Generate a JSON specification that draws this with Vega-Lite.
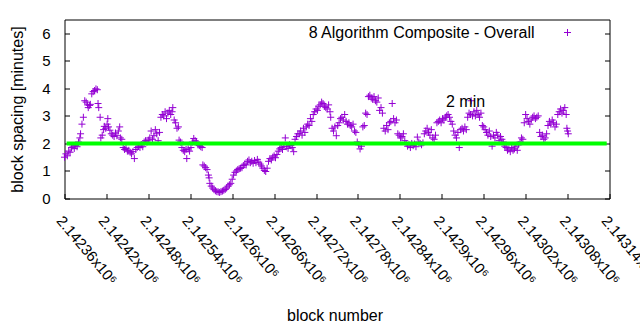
{
  "$schema": "https://vega.github.io/schema/vega-lite/v6.json",
  "width": 545,
  "height": 179,
  "autosize": "none",
  "padding": {"left": 64.5, "top": 19.5, "right": 30.5, "bottom": 131.5},
  "background": "white",
  "config": {
    "font": "Liberation Sans",
    "view": {"stroke": "black", "strokeWidth": 1},
    "axis": {"grid": false, "domain": false, "labelColor": "#000", "titleColor": "#000", "tickColor": "#000", "labelFontSize": 15, "titleFontSize": 16, "titleFontWeight": "normal", "tickSize": -5}
  },
  "resolve": {"axis": {"y": "independent"}},
  "layer": [
    {
      "data": {"values": [
        {"block":2142360,"spacing":1.50},{"block":2142362,"spacing":1.62},{"block":2142364,"spacing":1.55},{"block":2142366,"spacing":1.72},{"block":2142368,"spacing":1.68},{"block":2142370,"spacing":1.85},{"block":2142372,"spacing":1.90},{"block":2142374,"spacing":1.82},{"block":2142376,"spacing":1.92},{"block":2142378,"spacing":1.88},{"block":2142380,"spacing":2.05},{"block":2142382,"spacing":2.20},{"block":2142383,"spacing":2.35},{"block":2142385,"spacing":2.70},{"block":2142387,"spacing":2.95},{"block":2142389,"spacing":3.55},{"block":2142391,"spacing":3.50},{"block":2142393,"spacing":3.40},{"block":2142394,"spacing":3.30},{"block":2142396,"spacing":3.38},{"block":2142397,"spacing":3.42},{"block":2142399,"spacing":3.80},{"block":2142401,"spacing":3.88},{"block":2142403,"spacing":3.92},{"block":2142405,"spacing":3.98},{"block":2142407,"spacing":3.95},{"block":2142408,"spacing":3.45},{"block":2142409,"spacing":3.30},{"block":2142411,"spacing":2.95},{"block":2142412,"spacing":2.20},{"block":2142414,"spacing":2.30},{"block":2142416,"spacing":2.50},{"block":2142417,"spacing":2.62},{"block":2142419,"spacing":2.55},{"block":2142421,"spacing":2.70},{"block":2142422,"spacing":2.90},{"block":2142423,"spacing":2.60},{"block":2142425,"spacing":2.48},{"block":2142427,"spacing":2.35},{"block":2142429,"spacing":2.30},{"block":2142431,"spacing":2.25},{"block":2142433,"spacing":2.38},{"block":2142435,"spacing":2.28},{"block":2142437,"spacing":2.45},{"block":2142439,"spacing":2.60},{"block":2142440,"spacing":2.20},{"block":2142442,"spacing":2.15},{"block":2142444,"spacing":1.85},{"block":2142446,"spacing":1.78},{"block":2142448,"spacing":1.82},{"block":2142450,"spacing":1.72},{"block":2142452,"spacing":1.75},{"block":2142454,"spacing":1.68},{"block":2142456,"spacing":1.62},{"block":2142458,"spacing":1.70},{"block":2142460,"spacing":1.45},{"block":2142462,"spacing":1.78},{"block":2142464,"spacing":1.85},{"block":2142466,"spacing":1.90},{"block":2142468,"spacing":1.85},{"block":2142470,"spacing":1.95},{"block":2142472,"spacing":1.88},{"block":2142474,"spacing":2.05},{"block":2142476,"spacing":2.10},{"block":2142478,"spacing":2.05},{"block":2142480,"spacing":2.12},{"block":2142482,"spacing":2.20},{"block":2142484,"spacing":2.45},{"block":2142486,"spacing":2.15},{"block":2142488,"spacing":2.28},{"block":2142490,"spacing":2.50},{"block":2142492,"spacing":2.35},{"block":2142494,"spacing":2.10},{"block":2142496,"spacing":2.40},
        {"block":2142498,"spacing":2.95},{"block":2142500,"spacing":3.05},{"block":2142502,"spacing":3.00},{"block":2142504,"spacing":3.15},{"block":2142506,"spacing":2.90},{"block":2142508,"spacing":3.10},{"block":2142510,"spacing":3.20},{"block":2142512,"spacing":3.05},{"block":2142514,"spacing":3.15},{"block":2142515,"spacing":3.30},{"block":2142517,"spacing":2.85},{"block":2142519,"spacing":2.75},{"block":2142521,"spacing":2.55},{"block":2142523,"spacing":2.60},{"block":2142524,"spacing":2.12},{"block":2142526,"spacing":2.05},{"block":2142528,"spacing":1.85},{"block":2142530,"spacing":1.75},{"block":2142532,"spacing":1.70},{"block":2142534,"spacing":1.78},{"block":2142535,"spacing":1.45},{"block":2142537,"spacing":1.80},{"block":2142539,"spacing":1.72},{"block":2142541,"spacing":1.85},{"block":2142543,"spacing":2.05},{"block":2142545,"spacing":2.18},{"block":2142547,"spacing":2.10},{"block":2142549,"spacing":2.05},{"block":2142551,"spacing":1.95},{"block":2142553,"spacing":1.92},{"block":2142555,"spacing":1.88},{"block":2142557,"spacing":1.85},
        {"block":2142558,"spacing":1.22},{"block":2142560,"spacing":1.18},{"block":2142562,"spacing":1.12},{"block":2142564,"spacing":1.05},{"block":2142566,"spacing":0.85},{"block":2142567,"spacing":0.75},{"block":2142568,"spacing":0.55},{"block":2142570,"spacing":0.45},{"block":2142572,"spacing":0.38},{"block":2142574,"spacing":0.32},{"block":2142576,"spacing":0.28},{"block":2142578,"spacing":0.25},{"block":2142580,"spacing":0.24},{"block":2142582,"spacing":0.22},{"block":2142584,"spacing":0.25},{"block":2142586,"spacing":0.27},{"block":2142588,"spacing":0.30},{"block":2142590,"spacing":0.33},{"block":2142592,"spacing":0.38},{"block":2142594,"spacing":0.45},{"block":2142596,"spacing":0.50},{"block":2142598,"spacing":0.55},
        {"block":2142600,"spacing":0.70},{"block":2142602,"spacing":0.85},{"block":2142604,"spacing":0.95},{"block":2142606,"spacing":1.00},{"block":2142608,"spacing":1.05},{"block":2142610,"spacing":1.08},{"block":2142612,"spacing":1.10},{"block":2142614,"spacing":1.12},{"block":2142616,"spacing":1.20},{"block":2142618,"spacing":1.25},{"block":2142620,"spacing":1.22},{"block":2142622,"spacing":1.35},{"block":2142624,"spacing":1.40},{"block":2142626,"spacing":1.30},{"block":2142628,"spacing":1.35},{"block":2142630,"spacing":1.28},{"block":2142632,"spacing":1.38},{"block":2142634,"spacing":1.30},{"block":2142636,"spacing":1.42},{"block":2142638,"spacing":1.32},{"block":2142640,"spacing":1.25},{"block":2142642,"spacing":1.18},
        {"block":2142644,"spacing":1.10},{"block":2142646,"spacing":1.02},{"block":2142648,"spacing":0.98},{"block":2142650,"spacing":1.10},{"block":2142652,"spacing":1.35},{"block":2142654,"spacing":1.45},{"block":2142656,"spacing":1.40},{"block":2142658,"spacing":1.50},{"block":2142660,"spacing":1.55},{"block":2142662,"spacing":1.48},{"block":2142664,"spacing":1.60},{"block":2142666,"spacing":1.72},{"block":2142668,"spacing":1.80},{"block":2142670,"spacing":1.85},{"block":2142672,"spacing":1.78},{"block":2142674,"spacing":1.90},{"block":2142676,"spacing":2.20},{"block":2142678,"spacing":1.88},{"block":2142680,"spacing":1.82},{"block":2142682,"spacing":1.95},{"block":2142684,"spacing":1.92},{"block":2142686,"spacing":1.85},{"block":2142688,"spacing":1.70},{"block":2142690,"spacing":2.15},{"block":2142692,"spacing":2.25},{"block":2142694,"spacing":2.35},
        {"block":2142696,"spacing":2.35},{"block":2142698,"spacing":2.45},{"block":2142700,"spacing":2.30},{"block":2142702,"spacing":2.55},{"block":2142704,"spacing":2.40},{"block":2142706,"spacing":2.60},{"block":2142708,"spacing":2.70},{"block":2142710,"spacing":2.65},{"block":2142712,"spacing":2.90},{"block":2142714,"spacing":2.80},{"block":2142716,"spacing":3.05},{"block":2142718,"spacing":3.15},{"block":2142720,"spacing":3.25},{"block":2142722,"spacing":3.20},{"block":2142724,"spacing":3.35},{"block":2142726,"spacing":3.40},{"block":2142728,"spacing":3.50},{"block":2142730,"spacing":3.45},{"block":2142732,"spacing":3.35},{"block":2142734,"spacing":3.30},{"block":2142736,"spacing":3.25},{"block":2142738,"spacing":3.40},{"block":2142740,"spacing":3.15},{"block":2142741,"spacing":2.95},{"block":2142743,"spacing":2.55},{"block":2142745,"spacing":2.45},{"block":2142747,"spacing":2.60},{"block":2142749,"spacing":2.28},{"block":2142751,"spacing":2.65},{"block":2142753,"spacing":2.75},{"block":2142755,"spacing":2.90},{"block":2142757,"spacing":2.95},{"block":2142759,"spacing":2.85},{"block":2142761,"spacing":3.05},{"block":2142763,"spacing":2.80},{"block":2142765,"spacing":2.70},{"block":2142767,"spacing":2.75},{"block":2142769,"spacing":2.65},{"block":2142771,"spacing":2.60},{"block":2142773,"spacing":2.70},{"block":2142775,"spacing":2.45},{"block":2142777,"spacing":2.40},{"block":2142779,"spacing":2.05},{"block":2142781,"spacing":1.95},{"block":2142783,"spacing":1.80},{"block":2142785,"spacing":1.90},{"block":2142787,"spacing":2.60},{"block":2142789,"spacing":2.65},{"block":2142791,"spacing":3.10},{"block":2142793,"spacing":3.05},
        {"block":2142795,"spacing":3.70},{"block":2142797,"spacing":3.75},{"block":2142799,"spacing":3.65},{"block":2142801,"spacing":3.60},{"block":2142803,"spacing":3.70},{"block":2142805,"spacing":3.55},{"block":2142807,"spacing":3.50},{"block":2142809,"spacing":3.65},{"block":2142811,"spacing":3.20},{"block":2142813,"spacing":3.30},{"block":2142815,"spacing":3.10},{"block":2142817,"spacing":2.55},{"block":2142819,"spacing":2.45},{"block":2142821,"spacing":2.65},{"block":2142823,"spacing":2.50},{"block":2142825,"spacing":2.75},{"block":2142827,"spacing":2.80},{"block":2142829,"spacing":3.45},{"block":2142831,"spacing":2.90},{"block":2142833,"spacing":2.75},{"block":2142835,"spacing":2.85},{"block":2142837,"spacing":2.35},{"block":2142839,"spacing":2.30},{"block":2142841,"spacing":2.20},{"block":2142843,"spacing":2.25},{"block":2142845,"spacing":2.35},{"block":2142847,"spacing":2.10},{"block":2142849,"spacing":2.00},{"block":2142851,"spacing":1.90},{"block":2142853,"spacing":1.95},{"block":2142855,"spacing":1.85},{"block":2142857,"spacing":2.00},{"block":2142859,"spacing":1.92},{"block":2142861,"spacing":1.98},{"block":2142863,"spacing":1.88},{"block":2142865,"spacing":2.23},{"block":2142867,"spacing":2.05},{"block":2142869,"spacing":2.00},{"block":2142871,"spacing":1.95},{"block":2142873,"spacing":2.02},{"block":2142875,"spacing":2.35},{"block":2142877,"spacing":2.45},{"block":2142879,"spacing":2.55},{"block":2142881,"spacing":2.40},{"block":2142883,"spacing":2.30},{"block":2142885,"spacing":2.50},{"block":2142887,"spacing":2.20},{"block":2142889,"spacing":2.15},{"block":2142891,"spacing":2.30},{"block":2142893,"spacing":2.75},{"block":2142895,"spacing":2.80},{"block":2142897,"spacing":2.85},{"block":2142899,"spacing":2.75},{"block":2142901,"spacing":2.90},{"block":2142903,"spacing":2.85},{"block":2142905,"spacing":2.95},{"block":2142907,"spacing":3.00},{"block":2142909,"spacing":3.05},{"block":2142911,"spacing":2.95},{"block":2142913,"spacing":2.80},{"block":2142915,"spacing":2.70},{"block":2142917,"spacing":2.45},{"block":2142919,"spacing":2.30},{"block":2142921,"spacing":2.20},{"block":2142923,"spacing":2.40},{"block":2142925,"spacing":1.85},{"block":2142927,"spacing":2.50},{"block":2142929,"spacing":2.55},{"block":2142931,"spacing":2.45},{"block":2142933,"spacing":2.60},{"block":2142935,"spacing":2.50},{"block":2142937,"spacing":2.95},{"block":2142939,"spacing":3.10},{"block":2142941,"spacing":3.05},{"block":2142942,"spacing":3.55},{"block":2142944,"spacing":3.00},{"block":2142946,"spacing":3.15},{"block":2142948,"spacing":3.00},{"block":2142950,"spacing":3.20},{"block":2142952,"spacing":3.05},{"block":2142954,"spacing":2.95},{"block":2142956,"spacing":3.10},{"block":2142958,"spacing":2.65},{"block":2142960,"spacing":2.60},{"block":2142962,"spacing":2.50},{"block":2142964,"spacing":2.40},{"block":2142966,"spacing":2.30},{"block":2142968,"spacing":2.45},{"block":2142970,"spacing":2.25},{"block":2142972,"spacing":1.90},{"block":2142974,"spacing":2.30},{"block":2142976,"spacing":2.20},{"block":2142978,"spacing":2.40},{"block":2142980,"spacing":2.30},{"block":2142982,"spacing":2.10},{"block":2142984,"spacing":2.25},{"block":2142986,"spacing":2.15},{"block":2142988,"spacing":2.05},{"block":2142990,"spacing":1.90},{"block":2142992,"spacing":1.85},{"block":2142994,"spacing":1.75},{"block":2142996,"spacing":1.80},{"block":2142998,"spacing":1.70},{"block":2143000,"spacing":1.85},{"block":2143002,"spacing":1.75},{"block":2143004,"spacing":1.80},{"block":2143006,"spacing":1.90},{"block":2143008,"spacing":1.75},{"block":2143010,"spacing":1.95},{"block":2143012,"spacing":2.05},{"block":2143014,"spacing":2.20},{"block":2143016,"spacing":2.15},{"block":2143018,"spacing":2.75},{"block":2143020,"spacing":3.05},{"block":2143022,"spacing":2.90},{"block":2143024,"spacing":2.80},{"block":2143026,"spacing":2.70},{"block":2143028,"spacing":2.85},{"block":2143030,"spacing":2.95},{"block":2143032,"spacing":3.00},{"block":2143034,"spacing":2.90},{"block":2143036,"spacing":2.95},{"block":2143038,"spacing":3.00},{"block":2143040,"spacing":2.40},{"block":2143042,"spacing":2.25},{"block":2143044,"spacing":2.30},{"block":2143046,"spacing":2.15},{"block":2143048,"spacing":2.20},{"block":2143050,"spacing":2.35},{"block":2143052,"spacing":2.65},{"block":2143054,"spacing":2.80},{"block":2143056,"spacing":2.70},{"block":2143058,"spacing":2.85},{"block":2143060,"spacing":2.75},{"block":2143062,"spacing":2.60},{"block":2143064,"spacing":2.70},{"block":2143066,"spacing":3.05},{"block":2143068,"spacing":3.15},{"block":2143070,"spacing":3.25},{"block":2143072,"spacing":3.10},{"block":2143074,"spacing":3.20},{"block":2143076,"spacing":3.30},{"block":2143078,"spacing":3.05},{"block":2143079,"spacing":2.55},{"block":2143080,"spacing":2.45},{"block":2143081,"spacing":2.35}
      ]},
      "mark": {"type": "point", "shape": "M-1,0L1,0M0,-1L0,1", "size": 49, "strokeWidth": 1, "opacity": 1, "filled": false},
      "encoding": {
        "x": {"field": "block", "type": "quantitative", "title": "block number",
          "scale": {"domain": [2142360, 2143140], "nice": false, "zero": false},
          "axis": {"orient": "bottom", "values": [2142360, 2142420, 2142480, 2142540, 2142600, 2142660, 2142720, 2142780, 2142840, 2142900, 2142960, 2143020, 2143080, 2143140],
            "labelExpr": "datum.value / 1000000 + 'x10⁶'", "labelAngle": 50, "labelAlign": "left", "labelBaseline": "top", "labelPadding": 19.5, "labelOffset": 0, "labelOverlap": false, "labelFlush": false, "labelBound": false, "labelLimit": 0,
            "titleY": 122, "titleBaseline": "alphabetic", "titleX": 270}},
        "y": {"field": "spacing", "type": "quantitative", "title": "block spacing [minutes]",
          "scale": {"domain": [0, 6.5], "nice": false, "zero": true},
          "axis": {"orient": "left", "values": [0, 1, 2, 3, 4, 5, 6], "labelPadding": 19.5, "titleX": -47, "titleBaseline": "middle", "labelFlush": false}},
        "color": {"datum": "8 Algorithm Composite - Overall", "scale": {"range": ["#9400d3"]},
          "legend": {"orient": "none", "legendX": 495, "legendY": 5, "title": null, "padding": 0, "labelFontSize": 16, "labelColor": "#000", "labelAlign": "right", "labelOffset": -41, "labelLimit": 0, "symbolType": "M-1,0L1,0M0,-1L0,1", "symbolSize": 49, "symbolStrokeWidth": 1}}
      }
    },
    {
      "data": {"values": [{"start": 2142363, "end": 2143136, "level": 2}]},
      "mark": {"type": "rule", "color": "#00ff00", "strokeWidth": 4},
      "encoding": {
        "x": {"field": "start", "type": "quantitative"},
        "x2": {"field": "end"},
        "y": {"field": "level", "type": "quantitative", "axis": {"orient": "right", "labels": false, "title": null, "values": [0, 1, 2, 3, 4, 5, 6]}}
      }
    },
    {
      "data": {"values": [{"block": 2142906, "spacing": 3.5, "note": "2 min"}]},
      "mark": {"type": "text", "align": "left", "baseline": "middle", "fontSize": 16, "color": "#000"},
      "encoding": {
        "x": {"field": "block", "type": "quantitative"},
        "y": {"field": "spacing", "type": "quantitative", "axis": null},
        "text": {"field": "note"}
      }
    }
  ]
}
